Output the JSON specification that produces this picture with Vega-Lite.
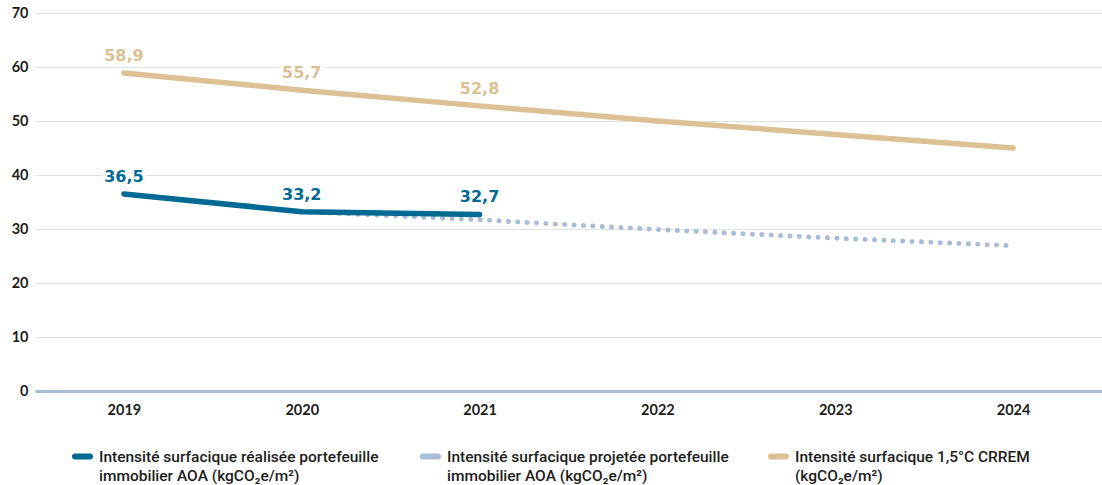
{
  "$schema": "https://vega.github.io/schema/vega-lite/v6.json",
  "width": 1067,
  "height": 378,
  "padding": {"left": 35, "top": 13, "right": 0, "bottom": 94},
  "autosize": {"type": "none"},
  "background": "white",
  "data": {
    "values": [
      {"year": "2019", "series": "real", "value": 36.5},
      {"year": "2020", "series": "real", "value": 33.2},
      {"year": "2021", "series": "real", "value": 32.7},
      {"year": "2020", "series": "proj", "value": 33.2},
      {"year": "2021", "series": "proj", "value": 31.7},
      {"year": "2022", "series": "proj", "value": 29.9},
      {"year": "2023", "series": "proj", "value": 28.3},
      {"year": "2024", "series": "proj", "value": 26.9},
      {"year": "2019", "series": "crrem", "value": 58.9},
      {"year": "2020", "series": "crrem", "value": 55.7},
      {"year": "2021", "series": "crrem", "value": 52.8},
      {"year": "2022", "series": "crrem", "value": 50.0},
      {"year": "2023", "series": "crrem", "value": 47.5},
      {"year": "2024", "series": "crrem", "value": 45.0}
    ]
  },
  "encoding": {
    "x": {
      "field": "year", "type": "ordinal",
      "scale": {"type": "point", "padding": 0.5},
      "axis": {
        "title": null, "labelAngle": 0, "ticks": false, "grid": false,
        "domainColor": "#a9bdd6", "domainWidth": 3,
        "labelPadding": 12, "labelFont": "Lato", "labelFontWeight": "bold",
        "labelFontSize": 14.5, "labelColor": "#1d1d1b"
      }
    },
    "y": {
      "field": "value", "type": "quantitative",
      "scale": {"domain": [0, 70], "nice": false, "zero": true},
      "axis": {
        "title": null, "values": [0, 10, 20, 30, 40, 50, 60, 70],
        "domain": false, "ticks": false, "grid": true,
        "gridColor": "#dde1e7", "gridWidth": 1,
        "labelPadding": 7, "labelFont": "Lato", "labelFontWeight": "bold",
        "labelFontSize": 14.5, "labelColor": "#1d1d1b"
      }
    }
  },
  "layer": [
    {
      "transform": [{"filter": "datum.series == 'proj'"}],
      "mark": {"type": "line", "strokeWidth": 5, "strokeCap": "round", "strokeDash": [0.1, 9.3]},
      "encoding": {
        "color": {
          "field": "series", "type": "nominal",
          "scale": {"domain": ["real", "proj", "crrem"], "range": ["#006a92", "#a9bdd6", "#dcc195"]},
          "legend": {
            "title": null, "orient": "none", "legendX": 37, "legendY": 433,
            "direction": "horizontal", "columns": 3, "gridAlign": "all",
            "columnPadding": 30,
            "symbolType": "stroke", "symbolSize": 225, "symbolStrokeWidth": 6,
            "symbolDash": [1, 0],
            "labelFont": "Roboto", "labelFontSize": 15.5, "labelFontWeight": 500,
            "labelColor": "#1d1d1b", "labelLimit": 500, "labelOffset": 6,
            "labelBaseline": "middle",
            "labelExpr": "datum.label == 'real' ? ['Intensité surfacique réalisée portefeuille', 'immobilier AOA (kgCO₂e/m²)'] : datum.label == 'proj' ? ['Intensité surfacique projetée portefeuille', 'immobilier AOA (kgCO₂e/m²)'] : ['Intensité surfacique 1,5°C CRREM', '(kgCO₂e/m²)']",
            "encode": {
              "symbols": {"update": {"strokeCap": {"value": "round"}}},
              "labels": {"update": {"lineHeight": {"value": 19}}}
            }
          }
        }
      }
    },
    {
      "transform": [{"filter": "datum.series != 'proj'"}],
      "mark": {"type": "line", "strokeWidth": 5.5, "strokeCap": "round", "strokeJoin": "round"},
      "encoding": {
        "color": {"field": "series", "type": "nominal"}
      }
    },
    {
      "transform": [{"filter": "datum.series != 'proj' && datum.year <= '2021'"}],
      "mark": {"type": "text", "dy": -17, "baseline": "middle", "font": "DejaVu Sans", "fontWeight": "bold", "fontSize": 16, "fill": "white", "stroke": "white", "strokeWidth": 8, "strokeJoin": "round"},
      "encoding": {
        "text": {"field": "value", "type": "quantitative", "format": ".1f"}
      }
    },
    {
      "transform": [{"filter": "datum.series != 'proj' && datum.year <= '2021'"}],
      "mark": {"type": "text", "dy": -17, "baseline": "middle", "font": "DejaVu Sans", "fontWeight": "bold", "fontSize": 16},
      "encoding": {
        "text": {"field": "value", "type": "quantitative", "format": ".1f"},
        "fill": {
          "field": "series", "type": "nominal",
          "scale": {"domain": ["real", "crrem"], "range": ["#006a92", "#dcc195"]},
          "legend": null
        }
      }
    }
  ],
  "config": {
    "view": {"stroke": null},
    "locale": {"number": {"decimal": ",", "thousands": " ", "grouping": [3], "currency": ["", " €"]}}
  }
}
